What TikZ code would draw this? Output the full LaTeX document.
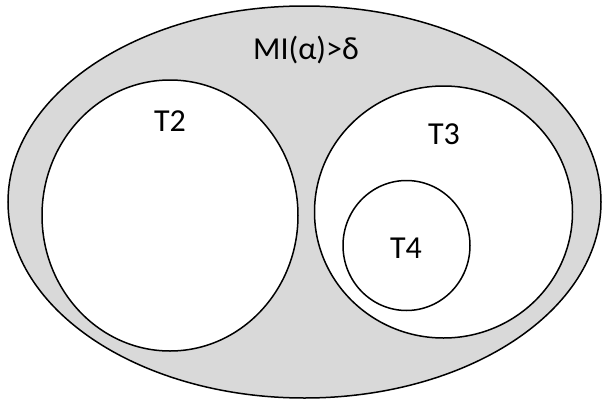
\documentclass[tikz,border=0pt]{standalone}
\usepackage{fontspec}
\setmainfont{Carlito}
\usetikzlibrary{shapes.geometric}
\definecolor{setgray}{HTML}{D9D9D9}
\tikzset{
  setshape/.style={ellipse, draw=black, line width=1.5pt, inner sep=0pt},
  setlabel/.style={anchor=base, inner sep=0pt, font=\fontsize{32}{38}\selectfont}
}
\begin{document}
\begin{tikzpicture}[x=1pt,y=-1pt]
\useasboundingbox (0,0) rectangle (603,399);
\node[setshape, fill=setgray, minimum width=593pt, minimum height=392pt] (outer) at (304.5,202) {};
\node[setshape, fill=white, minimum width=256pt, minimum height=271pt] (t2) at (170,215.5) {};
\node[setshape, fill=white, minimum width=258pt, minimum height=252pt] (t3) at (443.5,212) {};
\node[setshape, fill=white, minimum width=127pt, minimum height=130pt] (t4) at (406.5,245.5) {};
\node[setlabel] (lmi) at (306,59) {MI(α)>δ};
\node[setlabel] (l2) at (170,131) {T2};
\node[setlabel] (l3) at (444,144) {T3};
\node[setlabel] (l4) at (406,258) {T4};
\end{tikzpicture}
\end{document}
